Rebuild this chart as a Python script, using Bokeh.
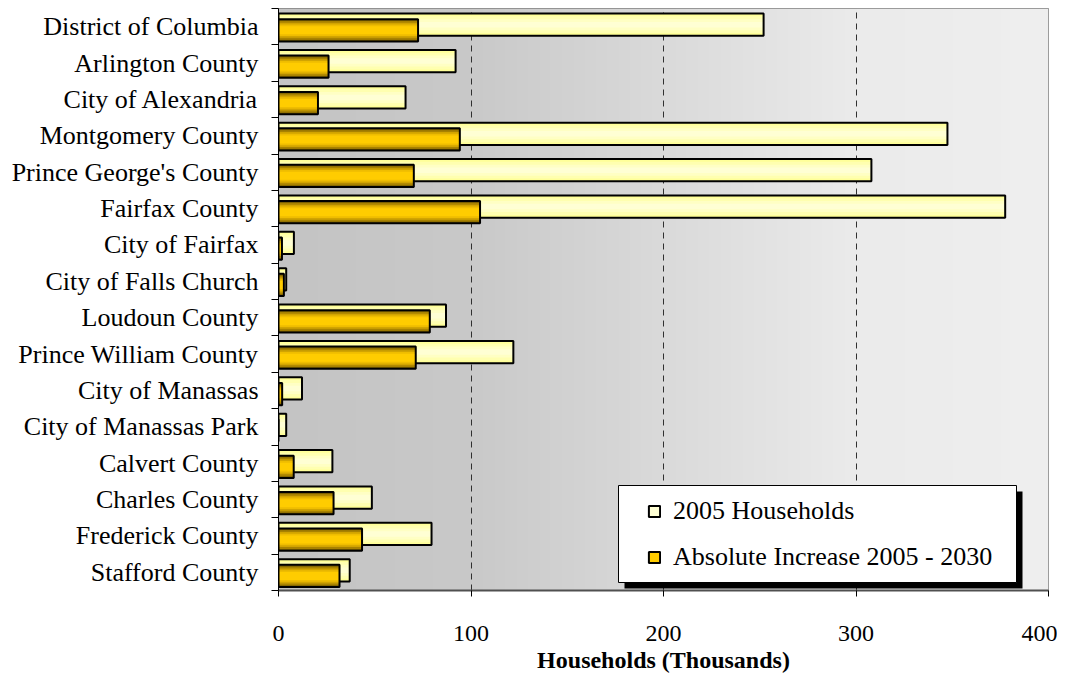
import numpy as np
from bokeh.plotting import figure
from bokeh.models import (Range1d, FixedTicker, BoxAnnotation, Legend, LegendItem,
                          ColumnDataSource)
from bokeh.embed import file_html
from bokeh.resources import INLINE

# ---------------- data ----------------
categories = ["District of Columbia", "Arlington County", "City of Alexandria",
              "Montgomery County", "Prince George's County", "Fairfax County",
              "City of Fairfax", "City of Falls Church", "Loudoun County",
              "Prince William County", "City of Manassas", "City of Manassas Park",
              "Calvert County", "Charles County", "Frederick County", "Stafford County"]
households_2005 = [252, 92, 66, 347.5, 308, 377.5, 8, 4, 87, 122, 12.2, 4,
                   28, 48.5, 79.5, 37]
increase_2005_2030 = [72.5, 26, 20.5, 94.2, 70.3, 104.7, 1.8, 2.8, 78.6, 71.3, 1.9, 0,
                      7.9, 28.6, 43.4, 31.7]
x_ticks = [0, 100, 200, 300, 400]
grid_ticks = [100, 200, 300]
series_names = ["2005 Households", "Absolute Increase 2005 - 2030"]
x_title = "Households (Thousands)"

n = len(categories)
ys = [n - i - 0.5 for i in range(n)]
bounds = list(range(0, n + 1))

BAR_H = 0.61
YEL_OFF = 0.055
GOLD_OFF = -0.10
SERIF = "Liberation Serif"

src = ColumnDataSource(dict(
    cat=categories,
    y_yel=[y + YEL_OFF for y in ys],
    y_gold=[y + GOLD_OFF for y in ys],
    hh=households_2005,
    inc=increase_2005_2030,
))

W, H = 1057, 676
BL, BR, BT, BB = 278, 9, 8, 86
p = figure(width=W, height=H, x_range=Range1d(0, 400), y_range=Range1d(0, n),
           output_backend="svg", toolbar_location=None,
           min_border_left=BL, min_border_right=BR, min_border_top=BT,
           min_border_bottom=BB)
p.border_fill_color = "white"
p.outline_line_color = "#808080"
p.outline_line_width = 1

# background gradient (horizontal, dark grey -> light grey)
stops_x = [0, 100, 200, 300, 400]
stops_v = [196, 201, 218, 235, 239]
xs = np.linspace(0, 400, 800)
vals = np.interp(xs, stops_x, stops_v).astype(np.uint32)
img = np.zeros((1, len(xs)), dtype=np.uint32)
img[0, :] = (255 << 24) | (vals << 16) | (vals << 8) | vals
p.image_rgba(image=[img], x=p.x_range.start, y=p.y_range.start,
             dw=p.x_range.end - p.x_range.start, dh=p.y_range.end - p.y_range.start,
             level="image")

# grid
p.ygrid.visible = False
p.xgrid.ticker = FixedTicker(ticks=grid_ticks)
p.xgrid.grid_line_color = "#303030"
p.xgrid.grid_line_dash = "6 5"
p.xgrid.grid_line_width = 1


def layered_bars(ycol, xcol, fracs, colors):
    rs = []
    for f, c in zip(fracs, colors):
        rs.append(p.hbar(y=ycol, right=xcol, left=0, height=BAR_H * f, source=src,
                         fill_color=c, line_color=None))
    rs.append(p.hbar(y=ycol, right=xcol, left=0, height=BAR_H, source=src,
                     fill_color=None, line_color="black", line_width=2))
    return rs

yel = layered_bars("y_yel", "hh", [1.0, 0.75, 0.5, 0.25],
                   ["#ffff99", "#ffffb0", "#ffffc4", "#ffffd4"])
gold = layered_bars("y_gold", "inc", [1.0, 0.84, 0.68, 0.52, 0.36],
                    ["#7d6000", "#a88200", "#d2a400", "#efbd00", "#ffcc00"])

# axes
xa = p.xaxis[0]
xa.ticker = FixedTicker(ticks=x_ticks)
xa.axis_line_color = "#505050"
xa.axis_line_width = 2
xa.major_tick_out = 6
xa.major_tick_in = 0
xa.major_tick_line_color = "black"
xa.minor_tick_out = 0
xa.major_label_text_font = SERIF
xa.major_label_text_font_size = "24px"
xa.major_label_text_color = "black"
xa.major_label_text_line_height = 1.0
xa.major_label_standoff = 29
xa.axis_label = x_title
xa.axis_label_text_font = SERIF
xa.axis_label_text_font_size = "24px"
xa.axis_label_text_font_style = "bold"
xa.axis_label_text_color = "black"
xa.axis_label_text_line_height = 1.0
xa.axis_label_standoff = 3

ya = p.yaxis[0]
ya.ticker = FixedTicker(ticks=ys, minor_ticks=bounds)
ya.major_label_overrides = {y: c for y, c in zip(ys, categories)}
ya.major_tick_out = 0
ya.major_tick_in = 0
ya.minor_tick_out = 7
ya.minor_tick_in = 0
ya.minor_tick_line_color = "black"
ya.axis_line_color = "black"
ya.major_label_text_font = SERIF
ya.major_label_text_font_size = "26px"
ya.major_label_text_color = "black"
ya.major_label_standoff = 13

# pixel helpers (frame occupies canvas x BL..W-BR, y BT..H-BB)
FX0, FX1, FY0, FY1 = BL, W - BR, BT, H - BB
def px_to_x(px):
    return (px - FX0) / (FX1 - FX0) * 400.0
def py_to_y(py):
    return (FY1 - py) / (FY1 - FY0) * n

# legend frame (shadow + white box), canvas px
LX0, LX1, LY0, LY1 = 618, 1016, 485, 582
SH = 6
p.add_layout(BoxAnnotation(left=px_to_x(LX0 + SH), right=px_to_x(LX1 + SH),
                           top=py_to_y(LY0 + SH), bottom=py_to_y(LY1 + SH),
                           fill_color="black", fill_alpha=1, line_alpha=0))
p.add_layout(BoxAnnotation(left=px_to_x(LX0), right=px_to_x(LX1),
                           top=py_to_y(LY0), bottom=py_to_y(LY1),
                           fill_color="white", fill_alpha=1,
                           line_color="black", line_width=1, line_alpha=1))

legend = Legend(items=[LegendItem(label=series_names[0], renderers=yel),
                       LegendItem(label=series_names[1], renderers=gold)],
                location=(369, 18), padding=0, margin=0, spacing=16,
                glyph_width=14, glyph_height=14, label_height=30, label_standoff=12,
                label_text_font=SERIF, label_text_font_size="26px",
                label_text_color="black",
                background_fill_alpha=0, border_line_alpha=0)
p.add_layout(legend)

open("out.html", "w").write(file_html(p, INLINE))
